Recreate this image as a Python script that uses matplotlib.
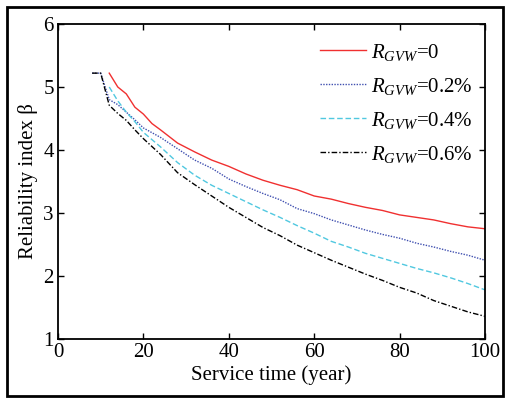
import matplotlib
matplotlib.use("Agg")
import matplotlib.pyplot as plt
from matplotlib.patches import Rectangle

plt.rcParams['font.family'] = ['Liberation Serif', 'DejaVu Serif']
plt.rcParams['mathtext.fontset'] = 'custom'
plt.rcParams['mathtext.rm'] = 'Liberation Serif'
plt.rcParams['mathtext.it'] = 'Liberation Serif:italic'

x_red = [12, 14, 16, 18, 20, 22, 24, 28, 32, 36, 40, 44, 48, 52, 56, 60, 64, 68, 72, 76, 80, 84, 88, 92, 96, 100]
y_red = [5.22, 5.0, 4.89, 4.68, 4.57, 4.42, 4.32, 4.11, 3.97, 3.84, 3.74, 3.62, 3.52, 3.44, 3.37, 3.27, 3.22, 3.15, 3.09, 3.04, 2.97, 2.93, 2.89, 2.83, 2.78, 2.75]

x_blue = [8, 10, 12, 14, 16, 18, 20, 24, 28, 32, 36, 40, 44, 48, 52, 56, 60, 64, 68, 72, 76, 80, 84, 88, 92, 96, 100]
y_blue = [5.22, 5.22, 4.80, 4.72, 4.60, 4.48, 4.35, 4.20, 4.02, 3.84, 3.71, 3.54, 3.42, 3.31, 3.21, 3.07, 2.99, 2.89, 2.81, 2.73, 2.66, 2.60, 2.52, 2.46, 2.39, 2.33, 2.25]

x_cyan = [12, 14, 16, 18, 20, 24, 28, 32, 36, 40, 44, 48, 52, 56, 60, 64, 68, 72, 76, 80, 84, 88, 92, 96, 100]
y_cyan = [5.0, 4.78, 4.60, 4.45, 4.28, 4.05, 3.80, 3.60, 3.44, 3.31, 3.18, 3.05, 2.93, 2.80, 2.68, 2.55, 2.46, 2.36, 2.28, 2.20, 2.12, 2.05, 1.97, 1.88, 1.78]

x_black = [8, 10, 12, 14, 16, 18, 20, 24, 28, 32, 36, 40, 44, 48, 52, 56, 60, 64, 68, 72, 76, 80, 84, 88, 92, 96, 100]
y_black = [5.22, 5.22, 4.71, 4.58, 4.47, 4.32, 4.18, 3.93, 3.64, 3.45, 3.27, 3.09, 2.93, 2.77, 2.64, 2.49, 2.37, 2.25, 2.14, 2.03, 1.93, 1.82, 1.73, 1.61, 1.52, 1.43, 1.36]

labels = [r'$R_{GVW}$=0', r'$R_{GVW}$=0.2%', r'$R_{GVW}$=0.4%', r'$R_{GVW}$=0.6%']
xticks = [0, 20, 40, 60, 80, 100]
yticks = [1, 2, 3, 4, 5, 6]

fig = plt.figure(figsize=(5.05, 3.99), dpi=100)
ax = fig.add_axes([58/505, 1 - 339/399, (485-58)/505, (339-24)/399])

ax.plot(x_red, y_red, color='#f03030', lw=1.0, ls='-', label=labels[0])
ax.plot(x_blue, y_blue, color='#4050b0', lw=1.0, ls=(0, (1, 1)), label=labels[1])
ax.plot(x_cyan, y_cyan, color='#50c8e0', lw=1.0, ls=(0, (4, 2)), label=labels[2])
ax.plot(x_black, y_black, color='black', lw=1.0, ls=(0, (4, 1.5, 1, 1.5)), label=labels[3])

ax.set_xlim(0, 100)
ax.set_ylim(1, 6)
ax.set_xticks(xticks)
ax.set_yticks(yticks)
ax.tick_params(direction='in', top=True, right=True, labelsize=15, length=4, width=1, pad=3)
for s in ax.spines.values():
    s.set_linewidth(1.3)
ax.set_xlabel('Service time (year)', fontsize=15, labelpad=2)
ax.set_ylabel('Reliability index β', fontsize=15, labelpad=4)

leg = ax.legend(loc='upper right', bbox_to_anchor=(0.99, 0.97), frameon=False, fontsize=15,
                handlelength=2.2, handletextpad=0.25, labelspacing=0.62, borderaxespad=0)

fig.add_artist(Rectangle((7/505, 1 - 396/399), (503-7)/505, (396-7)/399, transform=fig.transFigure,
                         fill=False, edgecolor='black', lw=2))

fig.savefig('out.png', dpi=100)
